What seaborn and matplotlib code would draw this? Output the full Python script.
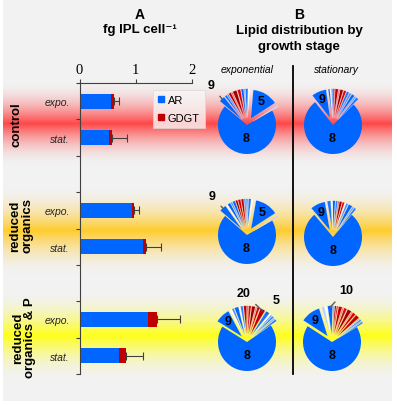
import numpy as np
import pandas as pd
import matplotlib
matplotlib.use("Agg")
import matplotlib.pyplot as plt
from matplotlib.lines import Line2D
import seaborn as sns

plt.rcParams["font.family"] = ["Liberation Sans", "DejaVu Sans"]

# ---- panel A data: fg IPL per cell ----
bar_ids = ["c_expo", "c_stat", "r_expo", "r_stat", "p_expo", "p_stat"]
stages = ["expo.", "stat.", "expo.", "stat.", "expo.", "stat."]
ar_vals = [0.56, 0.52, 0.93, 1.12, 1.21, 0.70]
gdgt_vals = [0.05, 0.06, 0.04, 0.06, 0.16, 0.13]
err_vals = [0.09, 0.26, 0.08, 0.27, 0.42, 0.30]
slot_order = ["c_expo", "c_stat", "gap1", "r_expo", "r_stat", "gap2", "p_expo", "p_stat"]
row_labels = ["control", "reduced\norganics", "reduced\norganics & P"]

# ---- panel B data: lipid distribution (slice sizes in degrees) ----
ctrl_expo_deg = [250, 3, 52, 3, 5, 2, 5, 6, 8, 2, 5, 3, 4, 12]
ctrl_expo_lab = ["8", "", "5", "", "", "", "", "", "", "", "", "", "", "9"]
ctrl_stat_deg = [277, 5, 3, 6, 4, 5, 5, 6, 2, 6, 3, 3, 2, 3, 30]
ctrl_stat_lab = ["8", "", "", "", "", "", "", "", "", "", "", "", "", "", "9"]
red_expo_deg = [251, 3, 47, 3, 5, 4, 3, 5, 5, 4, 5, 3, 6, 2, 14]
red_expo_lab = ["8", "", "5", "", "", "", "", "", "", "", "", "", "", "", "9"]
red_stat_deg = [280, 4, 3, 8, 4, 2, 4, 5, 2, 4, 5, 2, 7, 30]
red_stat_lab = ["8", "", "", "", "", "", "", "", "", "", "", "", "", "9"]
p_expo_deg = [247, 4, 3, 4, 3, 2, 8, 10, 5, 2, 7, 5, 2, 6, 5, 2, 8, 4, 3, 30]
p_expo_lab = ["8", "", "", "", "", "", "5", "20", "", "", "", "", "", "", "", "", "", "", "", "9"]
p_stat_deg = [244, 3, 2, 3, 2, 8, 6, 2, 8, 6, 2, 7, 3, 3, 2, 10, 4, 5, 40]
p_stat_lab = ["8", "", "", "", "", "", "", "", "", "", "", "", "", "", "", "10", "", "", "9"]

# ---- styles ----
BLUE = "#0066ff"
RED = "#c00000"
ctrl_expo_col = [BLUE, "#b8d0ff", BLUE, "#ffffff", "#1a75ff", "#6699ff", BLUE, "#e00000",
                 "#a00000", "#e83030", "#c00000", "#4d88ff", BLUE, BLUE]
ctrl_stat_col = [BLUE, "#1a75ff", "#6699ff", BLUE, "#4d88ff", "#1a75ff", "#e00000", "#a00000",
                 "#e84040", "#c00000", "#d01010", "#4d88ff", "#ffffff", BLUE, BLUE]
red_expo_col = [BLUE, "#b8d0ff", BLUE, "#ffffff", "#1a75ff", "#6699ff", "#3380ff", "#c00000",
                "#e00000", "#a00000", BLUE, "#4d88ff", BLUE, "#ffffff", BLUE]
red_stat_col = [BLUE, "#1a75ff", "#6699ff", BLUE, "#4d88ff", "#ffffff", "#e00000", "#a00000",
                "#e84040", "#3380ff", BLUE, "#ffffff", "#1a75ff", BLUE]
p_expo_col = [BLUE, "#1a75ff", "#80aaff", "#3380ff", "#6699ff", "#ffffff", "#1a75ff",
              "#c00000", "#e00000", "#e85050", "#a00000", "#d01010", "#e83030", "#c00000",
              "#3380ff", "#ffffff", BLUE, "#4d88ff", "#ffffff", BLUE]
p_stat_col = [BLUE, "#1a75ff", "#6699ff", "#3380ff", "#80aaff", "#c00000", "#e00000", "#e85050",
              "#a00000", "#d01010", "#e84040", "#c00000", "#e02020", "#b00000", "#4d88ff",
              BLUE, "#ffffff", "#b8d0ff", BLUE]

W, H = 397, 406
R = 29.0     # pie radius in px
PS = 120.0   # pie axes size in px

fig = plt.figure(figsize=(W / 100, H / 100), dpi=100, facecolor="white")

# background with coloured bands
bg = np.ones((H, W, 3))
bg[:402, 3:392] = 242 / 255
yy = np.arange(402)[:, None, None]
bands = [(124, 42, (1.0, 0.28, 0.28)), (231, 44, (1.0, 0.80, 0.18)), (336, 44, (1.0, 1.0, 0.10))]
for cy, hw, col in bands:
    a = np.clip(1 - np.abs(yy - cy) / hw, 0, 1) ** 1.8
    bg[:402, 3:392] = bg[:402, 3:392] * (1 - a) + np.array(col) * a

ax_bg = fig.add_axes([0, 0, 1, 1])
ax_bg.imshow(bg, extent=(0, W, H, 0), aspect="auto", interpolation="bilinear")
ax_bg.set_xlim(0, W)
ax_bg.set_ylim(H, 0)
ax_bg.axis("off")
ax_bg.plot([293, 293], [67, 375], color="black", lw=1.3)

# titles
ax_bg.text(140, 15, "A", ha="center", va="center", fontsize=10, fontweight="bold")
ax_bg.text(140, 30, "fg IPL cell⁻¹", ha="center", va="center", fontsize=9.5, fontweight="bold")
ax_bg.text(299, 15, "B", ha="center", va="center", fontsize=10, fontweight="bold")
ax_bg.text(299, 31, "Lipid distribution by", ha="center", va="center", fontsize=9.5, fontweight="bold")
ax_bg.text(299, 47, "growth stage", ha="center", va="center", fontsize=9.5, fontweight="bold")
ax_bg.text(247, 70, "exponential", ha="center", va="center", fontsize=7.5, fontstyle="italic")
ax_bg.text(336, 70, "stationary", ha="center", va="center", fontsize=7.5, fontstyle="italic")
for (x, y), lab in zip([(17, 125), (21, 226), (24, 338)], row_labels):
    ax_bg.text(x, y, lab, rotation=90, ha="center", va="center", fontsize=9.5,
               fontweight="bold", linespacing=1.0, multialignment="center")

# ---- panel A: stacked horizontal bars ----
df = pd.DataFrame({"id": bar_ids, "stage": stages, "AR": ar_vals, "GDGT": gdgt_vals, "err": err_vals})
df["total"] = df["AR"] + df["GDGT"]

ax = fig.add_axes([79.5 / W, 1 - 375 / H, 112.5 / W, 291 / H])
ax.set_facecolor("none")
sns.barplot(data=df, x="total", y="id", order=slot_order, color=RED, width=0.42,
            saturation=1, errorbar=None, linewidth=0, ax=ax)
sns.barplot(data=df, x="AR", y="id", order=slot_order, color=BLUE, width=0.42,
            saturation=1, errorbar=None, linewidth=0, ax=ax)
ypos = [slot_order.index(i) for i in df["id"]]
ax.errorbar(df["total"], ypos, xerr=[np.zeros(len(df)), df["err"]], fmt="none",
            ecolor="#404040", elinewidth=0.8, capsize=3, capthick=0.8, zorder=0.5)

ax.set_xlim(0, 2)
ax.set_ylim(7.5, -0.5)
ax.set_xlabel("")
ax.set_ylabel("")
ax.xaxis.tick_top()
ax.set_xticks([0, 1, 2])
ax.tick_params(axis="x", length=3, width=0.8, pad=2, labelsize=10.5, color="#404040")
for t in ax.get_xticklabels():
    t.set_fontfamily("Liberation Serif")
ax.set_yticks(np.arange(-0.5, 8, 1))
ax.set_yticklabels([])
ax.set_yticks(ypos, minor=True)
ax.set_yticklabels(df["stage"], minor=True, fontstyle="italic", fontsize=7.5, color="#262626")
ax.tick_params(axis="y", which="minor", length=0, pad=7)
ax.tick_params(axis="y", which="major", length=3, width=0.8, color="#404040")
for side in ["bottom", "right"]:
    ax.spines[side].set_visible(False)
for side in ["top", "left"]:
    ax.spines[side].set_linewidth(0.8)
    ax.spines[side].set_color("#404040")

handles = [Line2D([], [], ls="none", marker="s", ms=5, color=BLUE),
           Line2D([], [], ls="none", marker="s", ms=5, color=RED)]
leg = ax.legend(handles, ["AR", "GDGT"], loc="upper left", bbox_to_anchor=(153 / W, 1 - 91 / H),
                bbox_transform=fig.transFigure, borderaxespad=0, fontsize=8, handlelength=0.6,
                handletextpad=0.3, labelspacing=0.7, borderpad=0.45, fancybox=False)
leg.get_frame().set_facecolor("#f7f7f7")
leg.get_frame().set_edgecolor("#d9d9d9")
leg.get_frame().set_linewidth(0.6)

# ---- panel B: pies ----
pies = [
    (247, 126, ctrl_expo_deg, ctrl_expo_col, ctrl_expo_lab, 140, {"9": (132, 1.85)}),
    (333, 126, ctrl_stat_deg, ctrl_stat_col, ctrl_stat_lab, 128, {}),
    (247, 236, red_expo_deg, red_expo_col, red_expo_lab, 139, {"9": (132, 1.8)}),
    (333, 238, red_stat_deg, red_stat_col, red_stat_lab, 130, {}),
    (247, 343, p_expo_deg, p_expo_col, p_expo_lab, 148, {"20": (94, 1.7), "5": (55, 1.75)}),
    (332, 343, p_stat_deg, p_stat_col, p_stat_lab, 147, {"10": (75, 1.85)}),
]
for cx, cy, degs, cols, labs, start, outside in pies:
    pax = fig.add_axes([(cx - PS / 2) / W, 1 - (cy + PS / 2) / H, PS / W, PS / H])
    explode = [0] + [0.25] * (len(degs) - 1)
    wedges, _ = pax.pie(degs, colors=cols, explode=explode, startangle=start, radius=1,
                        wedgeprops=dict(linewidth=0.2, edgecolor=(1, 1, 1, 0.6)))
    wedges[0].set_linewidth(0)
    lim = PS / 2 / R
    pax.set_xlim(-lim, lim)
    pax.set_ylim(-lim, lim)
    pax.set_aspect("equal")
    pax.axis("off")
    for k, (w, lab) in enumerate(zip(wedges, labs)):
        if not lab:
            continue
        mid = np.deg2rad((w.theta1 + w.theta2) / 2)
        wx, wy = w.center
        if lab in outside:
            ang, dist = outside[lab]
            tip = (wx + 0.95 * np.cos(mid), wy + 0.95 * np.sin(mid))
            txt = (dist * np.cos(np.deg2rad(ang)), dist * np.sin(np.deg2rad(ang)))
            pax.annotate(lab, xy=tip, xytext=txt, ha="center", va="center", fontsize=9,
                         fontweight="bold", zorder=5,
                         arrowprops=dict(arrowstyle="-", color="#595959", lw=1.0,
                                         shrinkA=3, shrinkB=0, zorder=5))
        else:
            rr = 0.45 if k == 0 else 0.72
            pax.text(wx + rr * np.cos(mid), wy + rr * np.sin(mid), lab, ha="center", va="center",
                     fontsize=9, fontweight="bold")

fig.savefig("out.png", dpi=100, facecolor="white")
